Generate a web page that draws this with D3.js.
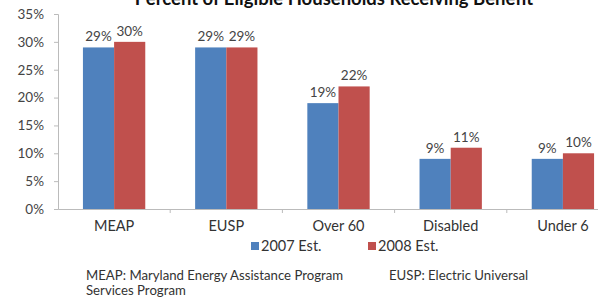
<!DOCTYPE html>
<html>
<head>
<meta charset="utf-8">
<script src="https://cdn.jsdelivr.net/npm/d3@7"></script>
<style>
  body { margin: 0; background: #fff; overflow: hidden; }
  text { font-family: Lato, "Open Sans", sans-serif; }
</style>
</head>
<body>
<div id="chart"></div>
<script>
// data
const categories = ["MEAP", "EUSP", "Over 60", "Disabled", "Under 6"]
const series = ["2007 Est.", "2008 Est."]
const values2007 = [29, 29, 19, 9, 9]
const values2008 = [30, 29, 22, 11, 10]
const yTicks = [0, 5, 10, 15, 20, 25, 30, 35]

const width = 598
const height = 298

let svg = d3.select("#chart")
            .append("svg")
            .attr("width", width)
            .attr("height", height)

let color = d3.scaleOrdinal()
              .domain(series)
              .range(["#4F81BD", "#C0504D"])

// plot area runs past the right edge in the original
let xScale = d3.scaleBand()
               .domain(categories)
               .range([58, 619])

let xInner = d3.scaleBand()
               .domain(series)
               .range([0, xScale.bandwidth()])
               .paddingOuter(0.8)
               .paddingInner(0)

let yScale = d3.scaleLinear()
               .domain([0, 35])
               .range([209, 14])

// y axis
let yAxis = d3.axisLeft(yScale)
              .tickValues(yTicks)
              .tickSize(4)
              .tickFormat(d => d + "%")

let gy = svg.append("g")
   .attr("transform", "translate(58,0)")
   .call(yAxis)
gy.select(".domain").attr("stroke", "#bbb")
gy.selectAll(".tick line").attr("stroke", "#bbb")
gy.selectAll(".tick text")
  .attr("fill", "#444")
  .attr("font-size", 13.5)
  .attr("x", -14)

// x axis
let xAxis = d3.axisBottom(xScale).tickSize(0).tickSizeOuter(0)
let gx = svg.append("g")
   .attr("transform", "translate(0,209)")
   .call(xAxis)
gx.select(".domain").attr("stroke", "#bbb")
gx.selectAll(".tick text")
  .attr("fill", "#333")
  .attr("font-size", 14.5)
  .attr("y", 12)
  .attr("dy", "0.71em")

// small separators between categories
gx.selectAll(".sep")
  .data(categories.slice(1))
  .enter().append("line")
  .attr("x1", d => xScale(d))
  .attr("x2", d => xScale(d))
  .attr("y1", 0)
  .attr("y2", 4)
  .attr("stroke", "#bbb")

let rows = categories.map((c, i) => ({cat: c, vals: [values2007[i], values2008[i]]}))

let groups = svg.selectAll(".grp")
   .data(rows)
   .enter().append("g")
   .attr("transform", d => "translate(" + xScale(d.cat) + ",0)")

groups.selectAll("rect")
  .data(d => d.vals.map((v, j) => ({s: series[j], v: v})))
  .enter().append("rect")
  .attr("x", d => xInner(d.s))
  .attr("y", d => yScale(d.v))
  .attr("width", xInner.bandwidth())
  .attr("height", d => yScale(0) - yScale(d.v))
  .attr("fill", d => color(d.s))

groups.selectAll(".lbl")
  .data(d => d.vals.map((v, j) => ({s: series[j], v: v})))
  .enter().append("text")
  .attr("class", "lbl")
  .attr("x", d => xInner(d.s) + xInner.bandwidth() / 2)
  .attr("y", d => yScale(d.v) - 6)
  .attr("text-anchor", "middle")
  .attr("font-size", 13.5)
  .attr("fill", "#444")
  .text(d => d.v + "%")

// title, cut off at the top
svg.append("text")
   .attr("x", 334)
   .attr("y", 5)
   .attr("text-anchor", "middle")
   .attr("font-size", 18.5)
   .attr("font-weight", "bold")
   .attr("fill", "#111")
   .text("Percent of Eligible Households Receiving Benefit")

// legend
let legendX = [251, 368]
let legend = svg.selectAll(".legend")
   .data(series)
   .enter().append("g")
   .attr("transform", (d, i) => "translate(" + legendX[i] + ",246)")
legend.append("rect")
      .attr("x", 0)
      .attr("y", -4)
      .attr("width", 8)
      .attr("height", 8)
      .attr("fill", d => color(d))
legend.append("text")
      .attr("x", 10)
      .attr("y", 5)
      .attr("font-size", 14.5)
      .attr("fill", "#333")
      .text(d => d)

// footnote
let notes = [
  {t: "MEAP: Maryland Energy Assistance Program", x: 86, y: 279.5},
  {t: "EUSP: Electric Universal", x: 389, y: 279.5},
  {t: "Services Program", x: 86, y: 295}
]
svg.selectAll(".note")
   .data(notes)
   .enter().append("text")
   .attr("x", d => d.x)
   .attr("y", d => d.y)
   .attr("font-size", 13.2)
   .attr("fill", "#333")
   .text(d => d.t)
</script>
</body>
</html>
